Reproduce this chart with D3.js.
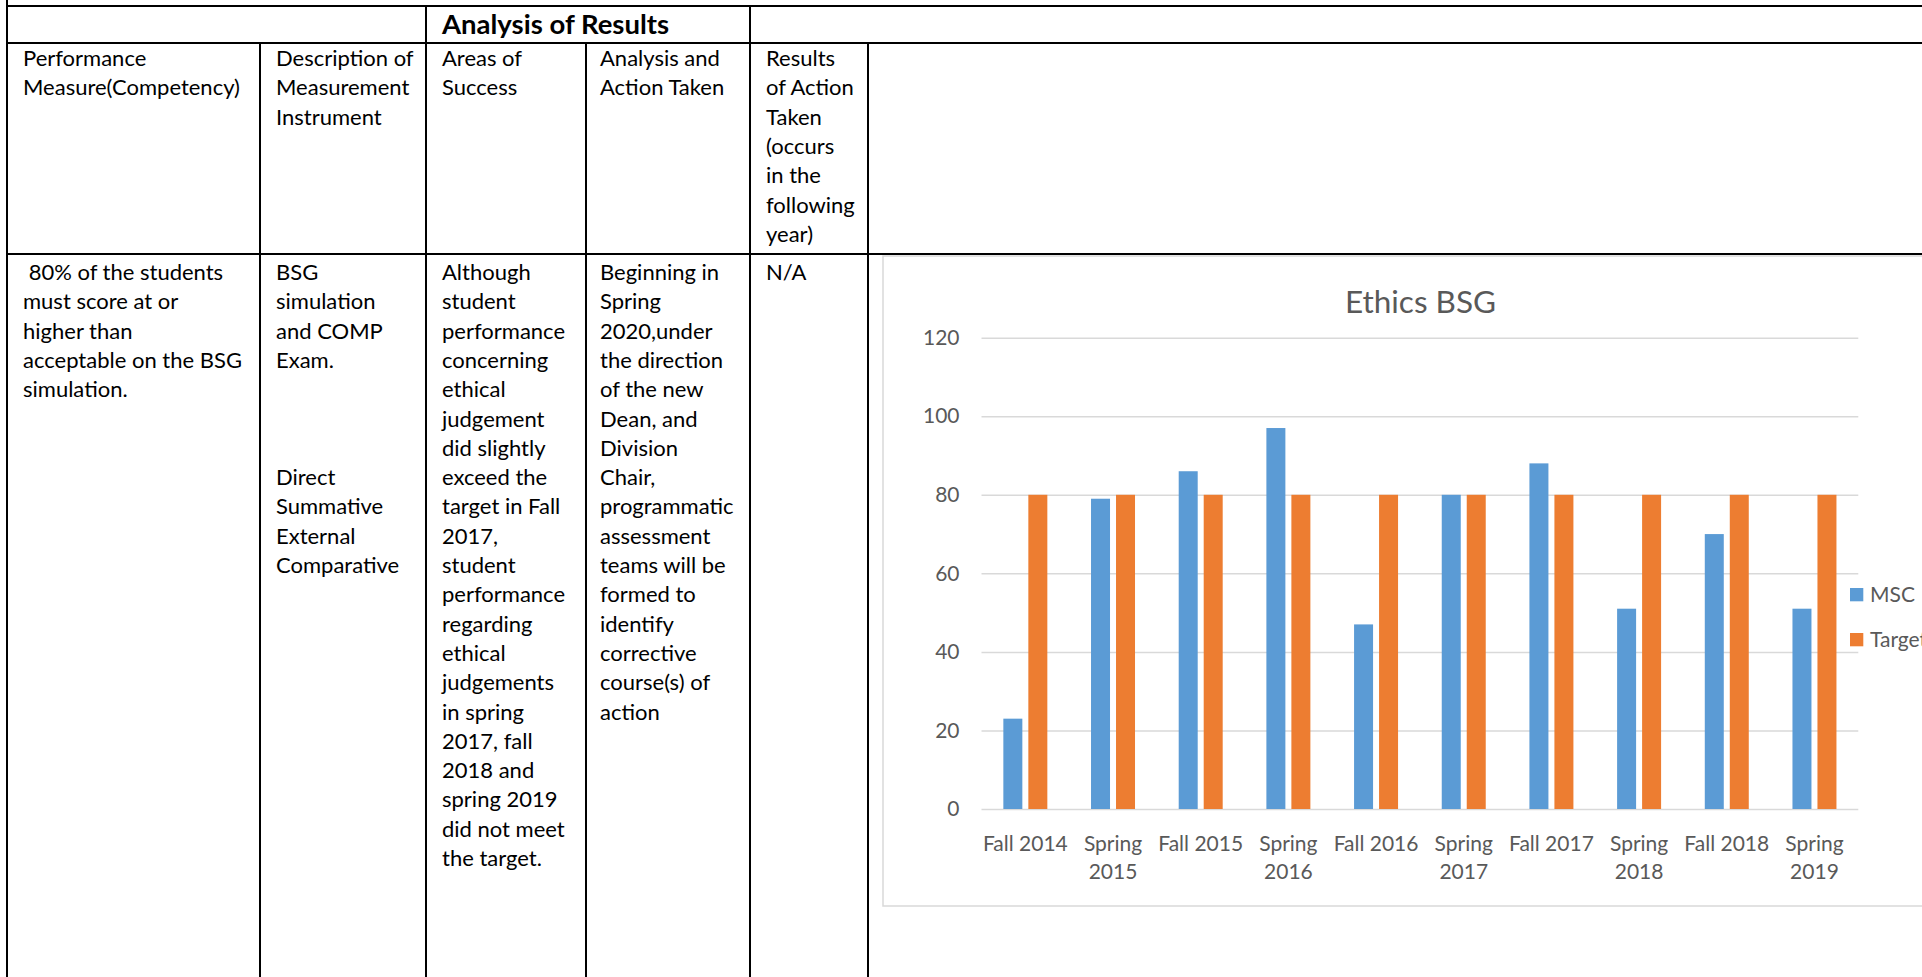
<!DOCTYPE html>
<html>
<head>
<meta charset="utf-8">
<script src="https://cdn.jsdelivr.net/npm/d3@7"></script>
<style>
  body { margin: 0; background: #fff; }
  svg { display: block; font-family: Lato, "Open Sans", sans-serif; }
  .cell text { white-space: pre; }
</style>
</head>
<body>
<div id="container"></div>
<script>
/* DATA */
const categories = ["Fall 2014", "Spring 2015", "Fall 2015", "Spring 2016", "Fall 2016",
  "Spring 2017", "Fall 2017", "Spring 2018", "Fall 2018", "Spring 2019"];
const mscValues = [23, 79, 86, 97, 47, 80, 88, 51, 70, 51];
const targetValues = [80, 80, 80, 80, 80, 80, 80, 80, 80, 80];
const seriesNames = ["MSC", "Target"];
const yTicks = [0, 20, 40, 60, 80, 100, 120];
const chartTitle = "Ethics BSG";

// table text, one array of lines per column
const headerTitle = "Analysis of Results";
const headerCols = [
  ["Performance", "Measure(Competency)"],
  ["Description of", "Measurement", "Instrument"],
  ["Areas of", "Success"],
  ["Analysis and", "Action Taken"],
  ["Results", "of Action", "Taken", "(occurs", "in the", "following", "year)"]
];
const bodyCols = [
  [" 80% of the students", "must score at or", "higher than", "acceptable on the BSG", "simulation."],
  ["BSG", "simulation", "and COMP", "Exam.", "", "", "", "Direct", "Summative", "External", "Comparative"],
  ["Although", "student", "performance", "concerning", "ethical", "judgement", "did slightly",
   "exceed the", "target in Fall", "2017,", "student", "performance", "regarding", "ethical",
   "judgements", "in spring", "2017, fall", "2018 and", "spring 2019", "did not meet", "the target."],
  ["Beginning in", "Spring", "2020,under", "the direction", "of the new", "Dean, and", "Division",
   "Chair,", "programmatic", "assessment", "teams will be", "formed to", "identify", "corrective",
   "course(s) of", "action"],
  ["N/A"]
];

/* CONSTANTS */
const width = 1922, height = 977;
const colX = [7, 260, 426, 586, 750, 868];
const padX = [16, 16, 16, 14, 16];
const rowY = [6, 43, 254];
const lineH = 29.3;
const textSize = 22;

const svg = d3.select("#container")
  .append("svg")
  .attr("width", width)
  .attr("height", height)

svg.append("rect").attr("width", width).attr("height", height).attr("fill", "#fff")

// TABLE LINES
const hLines = [
  { y: rowY[0], x1: colX[0], x2: width },
  { y: rowY[1], x1: colX[0], x2: width },
  { y: rowY[2], x1: colX[0], x2: width }
]
const vLines = [
  { x: colX[0], y1: 0, y2: height },
  { x: colX[1], y1: rowY[1], y2: height },
  { x: colX[2], y1: rowY[0], y2: height },
  { x: colX[3], y1: rowY[1], y2: height },
  { x: colX[4], y1: rowY[0], y2: height },
  { x: colX[5], y1: rowY[1], y2: height }
]
svg.selectAll("line.h")
  .data(hLines)
  .join("line")
  .attr("class", "h")
  .attr("x1", d => d.x1).attr("x2", d => d.x2)
  .attr("y1", d => d.y).attr("y2", d => d.y)
  .attr("stroke", "#000").attr("stroke-width", 2)

svg.selectAll("line.v")
  .data(vLines)
  .join("line")
  .attr("class", "v")
  .attr("x1", d => d.x).attr("x2", d => d.x)
  .attr("y1", d => d.y1).attr("y2", d => d.y2)
  .attr("stroke", "#000").attr("stroke-width", 2)

// header title
svg.append("text")
  .attr("x", colX[2] + 16)
  .attr("y", 34)
  .attr("font-size", 27.5)
  .attr("font-weight", "bold")
  .text(headerTitle)

// cell text
function drawCells(cols, firstBaseline, cls) {
  const g = svg.append("g").attr("class", "cell " + cls)
  cols.forEach((lines, i) => {
    const t = g.append("text")
      .attr("x", colX[i] + padX[i])
      .attr("y", firstBaseline)
      .attr("font-size", textSize)
      .attr("fill", "#000")
    t.selectAll("tspan")
      .data(lines)
      .join("tspan")
      .attr("x", colX[i] + padX[i])
      .attr("y", (d, j) => firstBaseline + j * lineH)
      .text(d => d)
  })
}
drawCells(headerCols, 66, "head")
drawCells(bodyCols, 280, "body")

/* CHART */
const box = { x: 883, y: 256, w: 1100, h: 650 }
svg.append("rect")
  .attr("x", box.x).attr("y", box.y)
  .attr("width", box.w).attr("height", box.h)
  .attr("fill", "#fff")
  .attr("stroke", "#D9D9D9").attr("stroke-width", 1.5)

const plot = { left: 981.5, right: 1858.3, top: 337.7, bottom: 809 }

const x0 = d3.scaleBand()
  .domain(categories)
  .range([plot.left, plot.right])
  .padding(0)

const x1 = d3.scaleBand()
  .domain(seriesNames)
  .range([0, x0.bandwidth()])
  .paddingInner(0.24)
  .paddingOuter(0.874)

const y = d3.scaleLinear()
  .domain([0, 120])
  .range([plot.bottom, plot.top])

const color = d3.scaleOrdinal()
  .domain(seriesNames)
  .range(["#5B9BD5", "#ED7D31"])

// gridlines + y labels
const yAxis = svg.append("g")
  .attr("transform", `translate(${plot.left},0)`)
  .call(d3.axisLeft(y).tickValues(yTicks).tickSize(-(plot.right - plot.left)).tickPadding(22))
yAxis.select(".domain").remove()
yAxis.selectAll(".tick line").attr("stroke", "#D9D9D9").attr("stroke-width", 1.5)
yAxis.selectAll(".tick text")
  .attr("fill", "#595959")
  .attr("font-size", 21)
  .attr("font-family", "Lato, sans-serif")

// bars
const rows = categories.map((c, i) => ({ cat: c, vals: [mscValues[i], targetValues[i]] }))
svg.append("g")
  .selectAll("g")
  .data(rows)
  .join("g")
  .attr("transform", d => `translate(${x0(d.cat)},0)`)
  .selectAll("rect")
  .data(d => seriesNames.map((s, k) => ({ s, v: d.vals[k] })))
  .join("rect")
  .attr("x", d => x1(d.s))
  .attr("width", x1.bandwidth())
  .attr("y", d => y(d.v))
  .attr("height", d => y(0) - y(d.v))
  .attr("fill", d => color(d.s))

// x labels (wrapped like Excel when wider than the category)
const xAxis = svg.append("g")
  .attr("transform", `translate(0,${plot.bottom})`)
  .call(d3.axisBottom(x0).tickSize(0).tickPadding(0))
xAxis.select(".domain").remove()
xAxis.selectAll(".tick text")
  .attr("fill", "#595959")
  .attr("font-size", 21)
  .attr("font-family", "Lato, sans-serif")
  .attr("dy", null)
  .attr("y", 42)
  .each(function (d) {
    const t = d3.select(this)
    if (this.getComputedTextLength() > x0.bandwidth() + 4) {
      const words = d.split(" ")
      t.text(null)
      words.forEach((w, i) => {
        t.append("tspan").attr("x", 0).attr("y", 42 + i * 28).text(w)
      })
    }
  })

// title
svg.append("text")
  .attr("x", 1420.5)
  .attr("y", 313)
  .attr("text-anchor", "middle")
  .attr("font-size", 31.5)
  .attr("fill", "#595959")
  .text(chartTitle)

// legend
const legend = svg.append("g")
  .selectAll("g")
  .data(seriesNames)
  .join("g")
  .attr("transform", (d, i) => `translate(1850,${588 + i * 45})`)
legend.append("rect")
  .attr("width", 13.3).attr("height", 13.3)
  .attr("fill", d => color(d))
legend.append("text")
  .attr("x", 20).attr("y", 14)
  .attr("font-size", 21)
  .attr("fill", "#595959")
  .text(d => d)
</script>
</body>
</html>
